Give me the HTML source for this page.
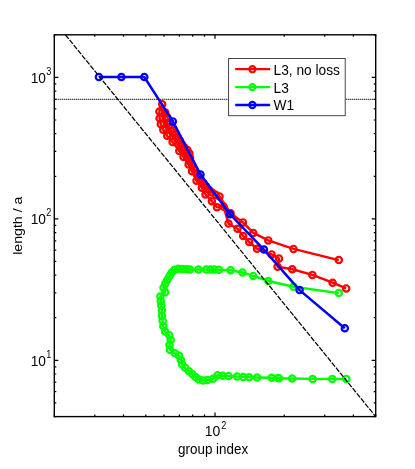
<!DOCTYPE html>
<html><head><meta charset="utf-8"><style>
html,body{margin:0;padding:0;background:#fff}
body{width:415px;height:469px;position:relative;overflow:hidden}
.t{font-family:"Liberation Sans",sans-serif;font-size:13.33px;fill:#000}
.s{font-family:"Liberation Sans",sans-serif;font-size:8.9px;fill:#000}
</style></head><body>
<svg width="415" height="469" viewBox="0 0 415 469" style="position:absolute;left:0;top:0;will-change:transform">
<rect width="415" height="469" fill="#fff"/>
<polyline fill="none" stroke="#ff0000" stroke-width="4" stroke-linecap="round" stroke-linejoin="round" points="163.5,112 164,118 166,124.5 169.5,131 174.5,138.5 180,147 185,155 190,163"/>
<polyline fill="none" stroke="#ff0000" stroke-width="2.45" stroke-linejoin="round" points="338.8,260.1 293.5,248.9 268.3,240.4 253.3,232.9 243.0,222.4 230.6,213.2 219.5,196.4 215.7,194.7 212.1,192.5 208.9,189.8 206.2,186.6 203.6,183.3 201.0,180.0 198.8,176.5 196.5,172.9 194.4,169.3 192.4,165.6 190.5,161.9 190.1,157.7 189.4,153.6 187.4,150.1 184.3,147.3 181.8,144.0 179.7,140.3 177.6,136.7 175.6,133.0 173.6,129.3 171.8,125.5 170.0,122.0 167.5,117.5 165.3,112.5 162.2,104.3 159.4,111.5 159.6,118.2 160.8,124.2 163.3,129.8 167.2,135.7 172.6,142.1 179.3,151.1 183.5,157.0 188.6,164.6 192.0,171.3 196.5,180.8 201.8,187.7 205.5,194.5 211.9,201.2 217.0,207.3 223.7,206.7 228.5,223.6 237.5,228.8 243.2,236.0 249.2,242.0 257.0,248.7 271.6,254.4 279.0,258.5 277.6,266.8 292.3,269.3 312.4,274.9 332.6,282.7 346.2,288.4"/><g fill="none" stroke="#ff0000" stroke-width="2.2"><circle cx="338.8" cy="260.1" r="3.15"/><circle cx="293.5" cy="248.9" r="3.15"/><circle cx="268.3" cy="240.4" r="3.15"/><circle cx="253.3" cy="232.9" r="3.15"/><circle cx="243.0" cy="222.4" r="3.15"/><circle cx="230.6" cy="213.2" r="3.15"/><circle cx="219.5" cy="196.4" r="3.15"/><circle cx="215.7" cy="194.7" r="3.15"/><circle cx="212.1" cy="192.5" r="3.15"/><circle cx="208.9" cy="189.8" r="3.15"/><circle cx="206.2" cy="186.6" r="3.15"/><circle cx="203.6" cy="183.3" r="3.15"/><circle cx="201.0" cy="180.0" r="3.15"/><circle cx="198.8" cy="176.5" r="3.15"/><circle cx="196.5" cy="172.9" r="3.15"/><circle cx="194.4" cy="169.3" r="3.15"/><circle cx="192.4" cy="165.6" r="3.15"/><circle cx="190.5" cy="161.9" r="3.15"/><circle cx="190.1" cy="157.7" r="3.15"/><circle cx="189.4" cy="153.6" r="3.15"/><circle cx="187.4" cy="150.1" r="3.15"/><circle cx="184.3" cy="147.3" r="3.15"/><circle cx="181.8" cy="144.0" r="3.15"/><circle cx="179.7" cy="140.3" r="3.15"/><circle cx="177.6" cy="136.7" r="3.15"/><circle cx="175.6" cy="133.0" r="3.15"/><circle cx="173.6" cy="129.3" r="3.15"/><circle cx="171.8" cy="125.5" r="3.15"/><circle cx="170.0" cy="122.0" r="3.15"/><circle cx="167.5" cy="117.5" r="3.15"/><circle cx="165.3" cy="112.5" r="3.15"/><circle cx="162.2" cy="104.3" r="3.15"/><circle cx="159.4" cy="111.5" r="3.15"/><circle cx="159.6" cy="118.2" r="3.15"/><circle cx="160.8" cy="124.2" r="3.15"/><circle cx="163.3" cy="129.8" r="3.15"/><circle cx="167.2" cy="135.7" r="3.15"/><circle cx="172.6" cy="142.1" r="3.15"/><circle cx="179.3" cy="151.1" r="3.15"/><circle cx="183.5" cy="157.0" r="3.15"/><circle cx="188.6" cy="164.6" r="3.15"/><circle cx="192.0" cy="171.3" r="3.15"/><circle cx="196.5" cy="180.8" r="3.15"/><circle cx="201.8" cy="187.7" r="3.15"/><circle cx="205.5" cy="194.5" r="3.15"/><circle cx="211.9" cy="201.2" r="3.15"/><circle cx="217.0" cy="207.3" r="3.15"/><circle cx="223.7" cy="206.7" r="3.15"/><circle cx="228.5" cy="223.6" r="3.15"/><circle cx="237.5" cy="228.8" r="3.15"/><circle cx="243.2" cy="236.0" r="3.15"/><circle cx="249.2" cy="242.0" r="3.15"/><circle cx="257.0" cy="248.7" r="3.15"/><circle cx="271.6" cy="254.4" r="3.15"/><circle cx="279.0" cy="258.5" r="3.15"/><circle cx="277.6" cy="266.8" r="3.15"/><circle cx="292.3" cy="269.3" r="3.15"/><circle cx="312.4" cy="274.9" r="3.15"/><circle cx="332.6" cy="282.7" r="3.15"/><circle cx="346.2" cy="288.4" r="3.15"/></g>
<polyline fill="none" stroke="#00ff00" stroke-width="2.45" stroke-linejoin="round" points="338.8,293.1 293.5,286.7 268.3,281.0 253.2,275.9 242.5,272.5 230.6,270.2 219.0,269.7 214.3,269.4 210.4,269.4 206.3,269.6 198.5,269.5 190.0,269.5 186.7,269.2 182.4,268.9 178.5,268.8 174.5,269.8 171.8,272.5 169.5,276.0 167.3,279.8 165.3,283.5 163.5,287.8 165.2,292.3 160.3,296.5 160.8,301.0 161.3,305.4 161.9,310.6 161.9,315.7 162.7,320.9 163.3,326.3 165.0,331.5 169.3,335.2 170.7,340.0 169.5,344.9 170.0,349.7 174.9,353.3 179.1,355.7 180.9,359.9 182.1,364.2 185.1,367.8 189.0,371.2 192.3,374.0 195.5,376.9 198.9,379.5 203.1,380.4 207.5,380.0 213.2,378.8 217.7,375.3 222.8,375.7 228.5,376.1 237.2,376.6 243.2,376.9 249.1,377.3 257.2,377.5 271.7,377.8 278.3,378.0 279.0,378.2 292.2,378.5 312.6,378.9 332.3,378.9 346.4,378.9"/><g fill="none" stroke="#00ff00" stroke-width="2.2"><circle cx="338.8" cy="293.1" r="3.15"/><circle cx="293.5" cy="286.7" r="3.15"/><circle cx="268.3" cy="281.0" r="3.15"/><circle cx="253.2" cy="275.9" r="3.15"/><circle cx="242.5" cy="272.5" r="3.15"/><circle cx="230.6" cy="270.2" r="3.15"/><circle cx="219.0" cy="269.7" r="3.15"/><circle cx="214.3" cy="269.4" r="3.15"/><circle cx="210.4" cy="269.4" r="3.15"/><circle cx="206.3" cy="269.6" r="3.15"/><circle cx="198.5" cy="269.5" r="3.15"/><circle cx="190.0" cy="269.5" r="3.15"/><circle cx="186.7" cy="269.2" r="3.15"/><circle cx="182.4" cy="268.9" r="3.15"/><circle cx="178.5" cy="268.8" r="3.15"/><circle cx="174.5" cy="269.8" r="3.15"/><circle cx="171.8" cy="272.5" r="3.15"/><circle cx="169.5" cy="276.0" r="3.15"/><circle cx="167.3" cy="279.8" r="3.15"/><circle cx="165.3" cy="283.5" r="3.15"/><circle cx="163.5" cy="287.8" r="3.15"/><circle cx="165.2" cy="292.3" r="3.15"/><circle cx="160.3" cy="296.5" r="3.15"/><circle cx="160.8" cy="301.0" r="3.15"/><circle cx="161.3" cy="305.4" r="3.15"/><circle cx="161.9" cy="310.6" r="3.15"/><circle cx="161.9" cy="315.7" r="3.15"/><circle cx="162.7" cy="320.9" r="3.15"/><circle cx="163.3" cy="326.3" r="3.15"/><circle cx="165.0" cy="331.5" r="3.15"/><circle cx="169.3" cy="335.2" r="3.15"/><circle cx="170.7" cy="340.0" r="3.15"/><circle cx="169.5" cy="344.9" r="3.15"/><circle cx="170.0" cy="349.7" r="3.15"/><circle cx="174.9" cy="353.3" r="3.15"/><circle cx="179.1" cy="355.7" r="3.15"/><circle cx="180.9" cy="359.9" r="3.15"/><circle cx="182.1" cy="364.2" r="3.15"/><circle cx="185.1" cy="367.8" r="3.15"/><circle cx="189.0" cy="371.2" r="3.15"/><circle cx="192.3" cy="374.0" r="3.15"/><circle cx="195.5" cy="376.9" r="3.15"/><circle cx="198.9" cy="379.5" r="3.15"/><circle cx="203.1" cy="380.4" r="3.15"/><circle cx="207.5" cy="380.0" r="3.15"/><circle cx="213.2" cy="378.8" r="3.15"/><circle cx="217.7" cy="375.3" r="3.15"/><circle cx="222.8" cy="375.7" r="3.15"/><circle cx="228.5" cy="376.1" r="3.15"/><circle cx="237.2" cy="376.6" r="3.15"/><circle cx="243.2" cy="376.9" r="3.15"/><circle cx="249.1" cy="377.3" r="3.15"/><circle cx="257.2" cy="377.5" r="3.15"/><circle cx="271.7" cy="377.8" r="3.15"/><circle cx="278.3" cy="378.0" r="3.15"/><circle cx="279.0" cy="378.2" r="3.15"/><circle cx="292.2" cy="378.5" r="3.15"/><circle cx="312.6" cy="378.9" r="3.15"/><circle cx="332.3" cy="378.9" r="3.15"/><circle cx="346.4" cy="378.9" r="3.15"/></g>
<polyline fill="none" stroke="#0000ff" stroke-width="2.45" stroke-linejoin="round" points="98.9,77.0 121.4,77.0 144.3,77.0 172.8,121.4 200.5,174.5 230.0,214.2 263.9,249.6 299.6,290.1 344.8,328.2"/><g fill="none" stroke="#0000ff" stroke-width="2.2"><circle cx="98.9" cy="77.0" r="3.15"/><circle cx="121.4" cy="77.0" r="3.15"/><circle cx="144.3" cy="77.0" r="3.15"/><circle cx="172.8" cy="121.4" r="3.15"/><circle cx="200.5" cy="174.5" r="3.15"/><circle cx="230.0" cy="214.2" r="3.15"/><circle cx="263.9" cy="249.6" r="3.15"/><circle cx="299.6" cy="290.1" r="3.15"/><circle cx="344.8" cy="328.2" r="3.15"/></g>
<line x1="65.4" y1="34.8" x2="375.7" y2="416.6" stroke="#000" stroke-width="1.25" stroke-dasharray="5.2 1.4"/>
<line x1="54.3" y1="99.3" x2="375.7" y2="99.3" stroke="#000" stroke-width="1.2" stroke-dasharray="1 1"/>
<path d="M54.3 416.6h2.0M375.7 416.6h-2.0M54.3 402.9h2.0M375.7 402.9h-2.0M54.3 391.7h2.0M375.7 391.7h-2.0M54.3 382.2h2.0M375.7 382.2h-2.0M54.3 374.0h2.0M375.7 374.0h-2.0M54.3 366.8h2.0M375.7 366.8h-2.0M54.3 360.3h4.0M375.7 360.3h-4.0M54.3 317.7h2.0M375.7 317.7h-2.0M54.3 292.8h2.0M375.7 292.8h-2.0M54.3 275.1h2.0M375.7 275.1h-2.0M54.3 261.4h2.0M375.7 261.4h-2.0M54.3 250.2h2.0M375.7 250.2h-2.0M54.3 240.8h2.0M375.7 240.8h-2.0M54.3 232.6h2.0M375.7 232.6h-2.0M54.3 225.3h2.0M375.7 225.3h-2.0M54.3 218.8h4.0M375.7 218.8h-4.0M54.3 176.3h2.0M375.7 176.3h-2.0M54.3 151.4h2.0M375.7 151.4h-2.0M54.3 133.7h2.0M375.7 133.7h-2.0M54.3 120.0h2.0M375.7 120.0h-2.0M54.3 108.8h2.0M375.7 108.8h-2.0M54.3 99.3h2.0M375.7 99.3h-2.0M54.3 91.1h2.0M375.7 91.1h-2.0M54.3 83.9h2.0M375.7 83.9h-2.0M54.3 77.4h4.0M375.7 77.4h-4.0M54.3 34.8h2.0M375.7 34.8h-2.0M54.3 416.6v-2.0M54.3 34.8v2.0M94.8 416.6v-2.0M94.8 34.8v2.0M123.5 416.6v-2.0M123.5 34.8v2.0M145.8 416.6v-2.0M145.8 34.8v2.0M164.0 416.6v-2.0M164.0 34.8v2.0M179.4 416.6v-2.0M179.4 34.8v2.0M192.7 416.6v-2.0M192.7 34.8v2.0M204.5 416.6v-2.0M204.5 34.8v2.0M215.0 416.6v-4.0M215.0 34.8v4.0M284.2 416.6v-2.0M284.2 34.8v2.0M324.7 416.6v-2.0M324.7 34.8v2.0M353.4 416.6v-2.0M353.4 34.8v2.0M375.7 416.6v-2.0M375.7 34.8v2.0" stroke="#000" stroke-width="1.2" fill="none"/>
<rect x="54.3" y="34.8" width="321.4" height="381.8" fill="none" stroke="#000" stroke-width="1.4"/>
<rect x="228.6" y="58.5" width="116.6" height="57.2" fill="#fff" stroke="#333" stroke-width="0.9"/>
<line x1="235.2" x2="270.1" y1="69.2" y2="69.2" stroke="#ff0000" stroke-width="2.3"/>
<circle cx="252.4" cy="69.2" r="3.05" fill="none" stroke="#ff0000" stroke-width="2.2"/>
<line x1="235.2" x2="270.1" y1="87.1" y2="87.1" stroke="#00ff00" stroke-width="2.3"/>
<circle cx="252.4" cy="87.1" r="3.05" fill="none" stroke="#00ff00" stroke-width="2.2"/>
<line x1="235.2" x2="270.1" y1="105.0" y2="105.0" stroke="#0000ff" stroke-width="2.3"/>
<circle cx="252.4" cy="105.0" r="3.05" fill="none" stroke="#0000ff" stroke-width="2.2"/>
<g style="filter:grayscale(1)">
<text transform="translate(273.5,74.6) scale(1.030,1.130)" class="t" text-anchor="start">L3, no loss</text>
<text transform="translate(273.5,92.5) scale(1.030,1.130)" class="t" text-anchor="start">L3</text>
<text transform="translate(273.5,110.4) scale(1.030,1.130)" class="t" text-anchor="start">W1</text>
<text transform="translate(45.9,365.6) scale(1.030,1.130)" class="t" text-anchor="end">10</text>
<text transform="translate(46.2,357.5) scale(1.030,1.130)" class="s" text-anchor="start">1</text>
<text transform="translate(45.9,224.1) scale(1.030,1.130)" class="t" text-anchor="end">10</text>
<text transform="translate(46.2,216.0) scale(1.030,1.130)" class="s" text-anchor="start">2</text>
<text transform="translate(45.9,82.7) scale(1.030,1.130)" class="t" text-anchor="end">10</text>
<text transform="translate(46.2,74.6) scale(1.030,1.130)" class="s" text-anchor="start">3</text>
<text transform="translate(220.4,436.4) scale(1.050,1.150)" class="t" text-anchor="end">10</text>
<text transform="translate(221.3,428.9) scale(1.030,1.130)" class="s" text-anchor="start">2</text>
<text transform="translate(213.1,453.8) scale(1.008,1.140)" class="t" text-anchor="middle">group index</text>
<text transform="translate(22.1,225.7) rotate(-90) scale(1.062,1.02)" class="t" text-anchor="middle">length / a</text>
</g>
</svg>
</body></html>
